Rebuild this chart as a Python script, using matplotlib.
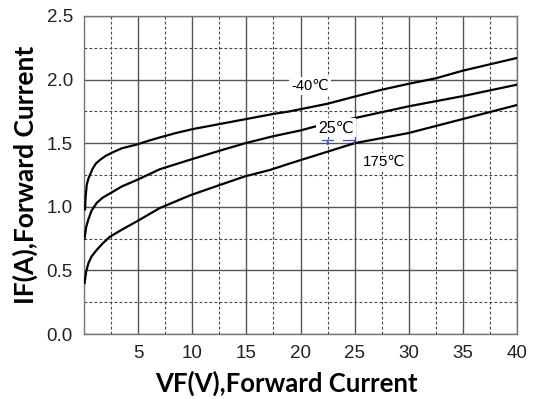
import numpy as np
import matplotlib.pyplot as plt
from matplotlib.ticker import MultipleLocator

# Forward characteristic curves
vf_m40 = [0.1, 0.15, 0.25, 0.4, 0.55, 0.8, 1.1, 1.5, 2.0, 2.7, 3.5, 4.9, 6.0, 7.0,
          8.5, 10, 12.5, 15, 17.5, 19, 22.5, 25, 27.5, 30, 32.5, 35, 37.5, 40]
if_m40 = [0.98, 1.08, 1.17, 1.22, 1.25, 1.30, 1.34, 1.37, 1.40, 1.43, 1.46, 1.49, 1.52, 1.545,
          1.58, 1.61, 1.65, 1.69, 1.73, 1.75, 1.81, 1.866, 1.92, 1.967, 2.01, 2.07, 2.12, 2.17]

vf_25 = [0.05, 0.2, 0.4, 0.7, 1.17, 1.7, 2.4, 3.5, 4.87, 7.0, 9.8, 12.5, 14.9, 17.5,
         20, 21.3, 25.7, 30, 35, 40]
if_25 = [0.75, 0.84, 0.90, 0.97, 1.03, 1.07, 1.105, 1.16, 1.21, 1.295, 1.37, 1.44, 1.50, 1.555,
         1.60, 1.63, 1.71, 1.79, 1.87, 1.96]

vf_175 = [0.05, 0.2, 0.4, 0.7, 1.17, 1.7, 2.4, 3.5, 4.87, 7.0, 9.8, 12.5, 14.9, 17.2,
          19, 22, 25, 30, 35, 40]
if_175 = [0.40, 0.49, 0.555, 0.61, 0.66, 0.71, 0.765, 0.82, 0.885, 0.99, 1.09, 1.17, 1.24, 1.29,
          1.34, 1.42, 1.50, 1.58, 1.69, 1.80]

xticks = [5, 10, 15, 20, 25, 30, 35, 40]
yticks = [0.0, 0.5, 1.0, 1.5, 2.0, 2.5]

fig = plt.figure(figsize=(5.33, 3.99), dpi=100)
ax = fig.add_axes([0.1576, 0.1629, 0.8124, 0.7971])

# grid: solid majors, dashed minors
ax.xaxis.set_minor_locator(MultipleLocator(2.5))
ax.yaxis.set_minor_locator(MultipleLocator(0.25))
ax.grid(which='major', color='#555555', linestyle='-', linewidth=1.0)
ax.grid(which='minor', color='#444444', linestyle=(0, (2.5, 2)), linewidth=0.8)
ax.set_axisbelow(True)

for xs, ys in [(vf_m40, if_m40), (vf_25, if_25), (vf_175, if_175)]:
    ax.plot(xs, ys, color='black', linewidth=1.6, zorder=3)

ax.set_xlim(0, 40)
ax.set_ylim(0, 2.5)
ax.set_xticks(xticks)
ax.set_yticks(yticks)
ax.set_yticklabels(['%.1f' % v for v in yticks])
ax.tick_params(which='both', length=0, labelsize=13.5, pad=8, labelcolor='#222222')
for lab in ax.get_xticklabels() + ax.get_yticklabels():
    lab.set_family('Liberation Sans')
for s in ax.spines.values():
    s.set_color('#777777')
    s.set_linewidth(1.0)

fam = ['Liberation Sans', 'DejaVu Sans']
box = dict(facecolor='white', edgecolor='none', pad=1.5)
ax.text(20.9, 1.95, '-40℃', family=fam, fontsize=10.5, ha='center', va='center', bbox=box, zorder=4)
ax.text(23.3, 1.62, '25℃', family=fam, fontsize=11.5, ha='center', va='center', bbox=box, zorder=4)
ax.text(27.7, 1.35, '175℃', family=fam, fontsize=11, ha='center', va='center', bbox=box, zorder=4)

# small blue marks under the 25 label
ax.plot([22.0, 23.0], [1.525, 1.525], color='#3355dd', linewidth=0.9, zorder=5)
ax.plot([22.45, 22.45], [1.525, 1.495], color='#3355dd', linewidth=0.9, zorder=5)
ax.plot([23.9, 24.95, 24.95], [1.525, 1.525, 1.495], color='#3355dd', linewidth=0.9, zorder=5)

ax.set_xlabel('VF(V),Forward Current', family='Lato', fontweight='bold', fontsize=18.5, labelpad=5)
ax.xaxis.set_label_coords(0.467, -0.115)
ax.set_ylabel('IF(A),Forward Current', family='Lato', fontweight='bold', fontsize=19, labelpad=6)

fig.savefig('out.png', dpi=100)
